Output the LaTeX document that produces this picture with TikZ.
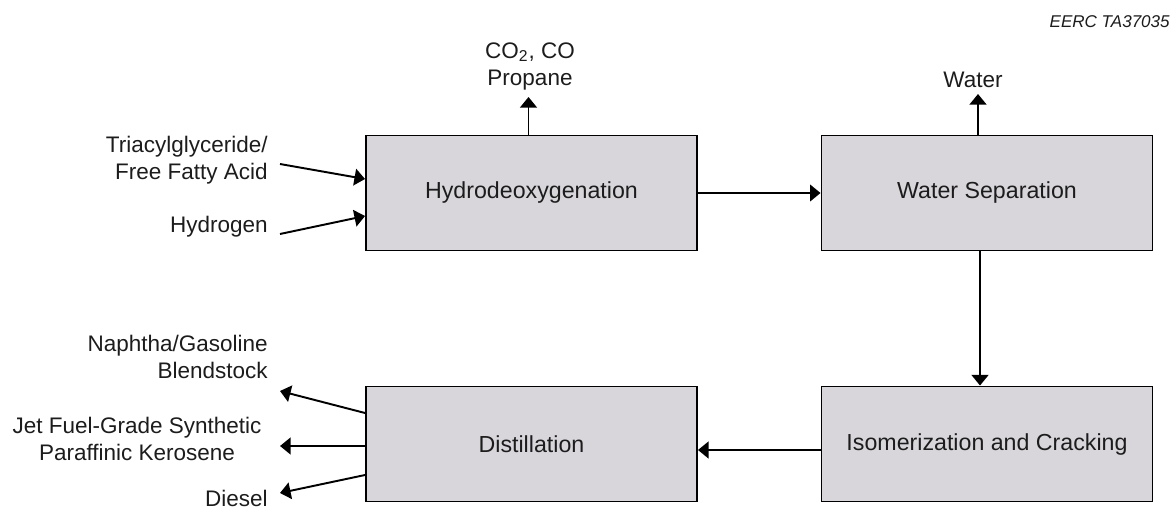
\documentclass[tikz,border=0pt]{standalone}
\usepackage{fontspec}
\setmainfont{Liberation Sans}
\setsansfont{Liberation Sans}
\usepackage{tikz}
\usetikzlibrary{arrows.meta,positioning,calc}
\definecolor{boxgray}{RGB}{216,214,219}
\definecolor{inkgray}{RGB}{28,28,28}
\tikzset{
    every picture/.style={font=\sffamily},
    every node/.style={font=\sffamily}
}

\begin{document}
\begin{tikzpicture}[
    process/.style={
        rectangle,
        draw=black,
        fill=boxgray,
        minimum width=6.62cm,
        minimum height=2.3cm,
        line width=1.1pt,
        text=inkgray,
        font=\fontsize{13.2}{15.5}\selectfont\sffamily
    },
    arrow/.style={
        -{Triangle[width=9.5pt,length=6pt]},
        line width=1.1pt,
        color=black
    },
    stream/.style={
        inner sep=0pt,
        text=inkgray,
        font=\fontsize{12.8}{15.5}\selectfont\sffamily
    },
    tag/.style={
        inner sep=0pt,
        text=inkgray,
        font=\fontsize{9.7}{11}\selectfont\sffamily\itshape
    }
]
\useasboundingbox (0,0) rectangle (23.48,10.3);

% Process steps
\node[process] (hdo) at (10.63,6.44) {Hydrodeoxygenation};
\node[process] (wsep) at (19.74,6.44) {Water Separation};
\node[process] (iso) at (19.74,1.42) {Isomerization and Cracking};
\node[process] (dist) at (10.63,1.42) {Distillation};

% Figure tag
\node[tag, anchor=north east] (figtag) at (23.4,10.0) {EERC TA37035};

% Feeds
\node[stream, anchor=north east, align=right] (feed) at (5.36,7.58) {Triacylglyceride/\\Free Fatty Acid};
\node[stream, anchor=north east] (hydrogen) at (5.36,5.98) {Hydrogen};
\coordinate (feedtail) at (5.6,7.02);
\coordinate (htail) at (5.6,5.62);

% Side streams
\node[stream, anchor=north, align=center] (offgas) at (10.6,9.46) {CO\textsubscript{2}, CO\\Propane};
\node[stream, anchor=north] (water) at (19.46,8.86) {Water};
\coordinate (gastip) at (10.57,8.36);
\coordinate (watertip) at (19.56,8.42);

% Products
\node[stream, anchor=north east, align=right] (naphtha) at (5.36,3.6) {Naphtha/Gasoline\\Blendstock};
\node[stream, anchor=north, align=center] (spk) at (2.74,1.96) {Jet Fuel-Grade Synthetic\\Paraffinic Kerosene};
\node[stream, anchor=north east] (diesel) at (5.36,0.5) {Diesel};
\coordinate (naphtip) at (5.6,2.48);
\coordinate (spktip) at (5.6,1.38);
\coordinate (dieseltip) at (5.6,0.44);

% Main flow
\draw[arrow] (feedtail) -- ([yshift=2.8mm]hdo.west);
\draw[arrow] (htail) -- ([yshift=-4.6mm]hdo.west);
\draw[arrow] (hdo.east) -- (wsep.west);
\draw[arrow] ([xshift=-1.4mm]wsep.south) -- ([xshift=-1.4mm]iso.north);
\draw[arrow] ([yshift=-1.2mm]iso.west) -- ([yshift=-1.2mm]dist.east);

% Off streams
\draw[arrow] (gastip |- hdo.north) -- (gastip);
\draw[arrow] (watertip |- wsep.north) -- (watertip);
\draw[arrow] ([yshift=6.2mm]dist.west) -- (naphtip);
\draw[arrow] ([yshift=-0.4mm]dist.west) -- (spktip);
\draw[arrow] ([yshift=-6.2mm]dist.west) -- (dieseltip);

\end{tikzpicture}
\end{document}
